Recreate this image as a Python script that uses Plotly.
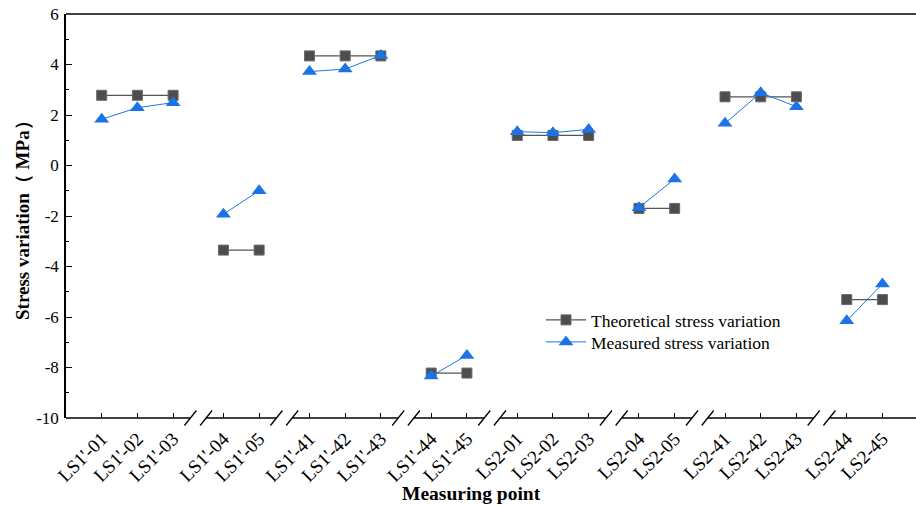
import plotly.graph_objects as go

# ---- data ----
groups = [
    ["LS1'-01", "LS1'-02", "LS1'-03"],
    ["LS1'-04", "LS1'-05"],
    ["LS1'-41", "LS1'-42", "LS1'-43"],
    ["LS1'-44", "LS1'-45"],
    ["LS2-01", "LS2-02", "LS2-03"],
    ["LS2-04", "LS2-05"],
    ["LS2-41", "LS2-42", "LS2-43"],
    ["LS2-44", "LS2-45"],
]
theoretical = [
    [2.78, 2.78, 2.78],
    [-3.35, -3.35],
    [4.34, 4.34, 4.34],
    [-8.22, -8.22],
    [1.19, 1.19, 1.19],
    [-1.70, -1.70],
    [2.72, 2.72, 2.72],
    [-5.31, -5.31],
]
measured = [
    [1.83, 2.29, 2.49],
    [-1.93, -1.00],
    [3.72, 3.82, 4.36],
    [-8.34, -7.52],
    [1.34, 1.30, 1.43],
    [-1.67, -0.53],
    [1.67, 2.88, 2.33],
    [-6.15, -4.69],
]
y_ticks = [-10, -8, -6, -4, -2, 0, 2, 4, 6]

# ---- layout helpers ----
GAP = 1.41
FONT = "Liberation Serif"
xs, labels, th, me, breaks = [], [], [], [], []
pos = 0.0
for gi, (g, t, m) in enumerate(zip(groups, theoretical, measured)):
    if gi > 0:
        xs.append(None); th.append(None); me.append(None)
        breaks.append(pos - 1 + GAP / 2)
        pos += GAP - 1
    for lab, tv, mv in zip(g, t, m):
        xs.append(pos); labels.append(lab); th.append(tv); me.append(mv)
        pos += 1
tickpos = [x for x in xs if x is not None]
x_min, x_max = -1.0, 22.81

fig = go.Figure()
fig.add_trace(go.Scatter(
    x=xs, y=th, mode="lines+markers", name="Theoretical stress variation",
    line=dict(color="#555555", width=1.2),
    marker=dict(symbol="square", size=10, color="#4d4d4d", line=dict(color="#6a6a6a", width=1)),
    connectgaps=False, cliponaxis=False, legend="legend"))
fig.add_trace(go.Scatter(
    x=xs, y=me, mode="lines+markers", name="Measured stress variation",
    line=dict(color="#1f74e2", width=1),
    marker=dict(symbol="triangle-up", size=13, color="#1c73e6"),
    connectgaps=False, cliponaxis=False, legend="legend2"))

shapes = []
# bottom axis segments with breaks
seg_start = x_min
d = 0.22
for b in breaks:
    shapes.append(dict(type="line", xref="x", yref="paper", x0=seg_start, x1=b - d, y0=0, y1=0,
                       line=dict(color="black", width=1.5)))
    seg_start = b + d
    for c in (b - d, b + d):
        shapes.append(dict(type="line", xref="x", yref="paper", xsizemode="pixel", ysizemode="pixel",
                           xanchor=c, yanchor=0, x0=-6, x1=6, y0=-7.5, y1=7.5,
                           line=dict(color="black", width=1.3)))
shapes.append(dict(type="line", xref="x", yref="paper", x0=seg_start, x1=x_max, y0=0, y1=0,
                   line=dict(color="black", width=1.5)))
# top border
shapes.append(dict(type="line", xref="paper", yref="paper", x0=0, x1=1, y0=1, y1=1,
                   line=dict(color="black", width=1.5)))

leg_common = dict(xanchor="left", yanchor="middle", bgcolor="rgba(0,0,0,0)",
                  font=dict(family=FONT, size=17.5), itemwidth=40)
fig.update_layout(
    width=916, height=506,
    margin=dict(l=66, r=0, t=14, b=88),
    paper_bgcolor="white", plot_bgcolor="white",
    font=dict(family=FONT, size=16, color="black"),
    shapes=shapes,
    showlegend=True,
    legend=dict(x=(541 - 66) / 850, y=(418 - 320) / 404, **leg_common),
    legend2=dict(x=(541 - 66) / 850, y=(418 - 342) / 404, **leg_common),
    xaxis=dict(range=[x_min, x_max], showline=False, showgrid=False, zeroline=False,
               tickmode="array", tickvals=tickpos, ticktext=labels, tickangle=-45,
               ticks="inside", ticklen=5, tickwidth=1.3, tickcolor="black",
               ticklabelstandoff=5,
               tickfont=dict(family=FONT, size=19)),
    yaxis=dict(range=[-10, 6], showline=True, linecolor="black", linewidth=1.5,
               showgrid=False, zeroline=False,
               tickmode="array", tickvals=y_ticks, ticktext=[str(v) for v in y_ticks],
               ticks="inside", ticklen=6, tickwidth=1.3, tickcolor="black",
               ticklabelstandoff=2,
               minor=dict(ticks="inside", ticklen=3, tickwidth=1.3, tickcolor="black", dtick=1, tick0=0),
               tickfont=dict(family=FONT, size=17)),
    annotations=[
        dict(text="<b>Stress variation（ MPa）</b>", xref="paper", yref="paper",
             x=(22 - 66) / 850, y=0.5, xanchor="center", yanchor="middle",
             textangle=-90, showarrow=False, font=dict(family=FONT, size=19)),
        dict(text="<b>Measuring point</b>", xref="paper", yref="paper",
             x=(471 - 66) / 850, y=-(493 - 418) / 404, xanchor="center", yanchor="middle",
             showarrow=False, font=dict(family=FONT, size=19.5)),
    ],
)
fig.write_html("out.html", config={"displayModeBar": False},
               post_script="document.body.style.margin='0px';")
